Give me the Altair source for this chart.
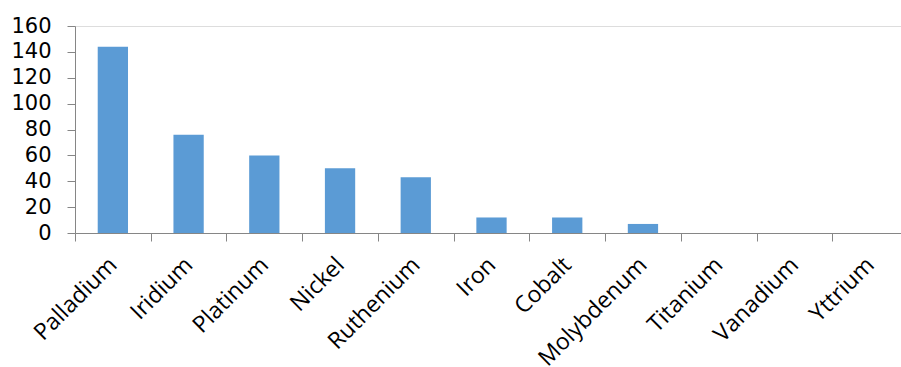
import altair as alt
import pandas as pd

# Metals and their values
metals = ["Palladium", "Iridium", "Platinum", "Nickel", "Ruthenium", "Iron",
          "Cobalt", "Molybdenum", "Titanium", "Vanadium", "Yttrium"]
values = [144, 76, 60, 50, 43, 12, 12, 7, 0, 0, 0]
y_ticks = [0, 20, 40, 60, 80, 100, 120, 140, 160]

df = pd.DataFrame({"metal": metals, "value": values})

W = 826          # visible plot width
X_RANGE = 833    # category band runs slightly past the right edge
H = 207
step = X_RANGE / len(metals)
AXIS_GREY = "#868686"

chart = (
    alt.Chart(df)
    .mark_bar(color="#5B9BD5")
    .encode(
        x=alt.X(
            "metal:N",
            sort=metals,
            scale=alt.Scale(paddingInner=0.6, paddingOuter=0.3, range=[0, X_RANGE]),
            axis=alt.Axis(
                title=None,
                labelAngle=-45,
                labelAlign="right",
                labelBaseline="middle",
                labelFont="Open Sans",
                labelFontSize=23,
                labelColor="#000000",
                labelPadding=20,
                tickOffset=-step / 2,
                labelOffset=step / 2,
                tickSize=8,
                tickColor=AXIS_GREY,
                domainColor=AXIS_GREY,
                labelOverlap=False,
                grid=False,
            ),
        ),
        y=alt.Y(
            "value:Q",
            scale=alt.Scale(domain=[0, 160], nice=False),
            axis=alt.Axis(
                title=None,
                values=y_ticks,
                labelFont="DejaVu Sans",
                labelFontSize=21,
                labelColor="#000000",
                labelPadding=16,
                tickSize=8,
                tickColor=AXIS_GREY,
                domainColor=AXIS_GREY,
                grid=False,
            ),
        ),
    )
    .properties(
        width=W,
        height=H,
        autosize=alt.AutoSizeParams(type="none"),
        padding={"left": 75, "top": 26, "right": 0, "bottom": 134},
    )
    .configure_view(strokeWidth=0)
    .configure(background="white")
)

chart.save("out.html", embed_options={"renderer": "svg", "actions": False})
